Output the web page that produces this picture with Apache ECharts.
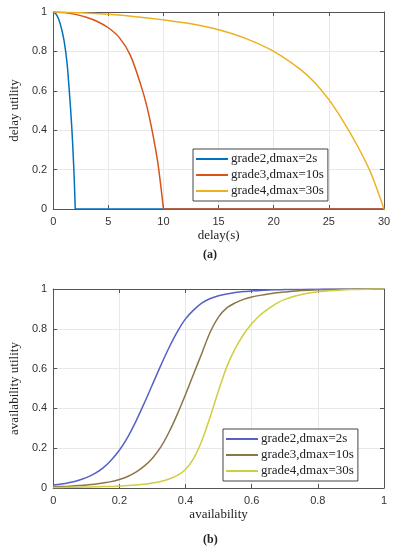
<!DOCTYPE html>
<html>
<head>
<meta charset="utf-8">
<script src="https://cdn.jsdelivr.net/npm/echarts@6/dist/echarts.min.js"></script>
<style>
html,body{margin:0;padding:0;background:#fff;}
#c{width:394px;height:550px;}
</style>
</head>
<body>
<div id="c"></div>
<script>
// ---- Data (a) ----
var legendNames = ['grade2,dmax=2s', 'grade3,dmax=10s', 'grade4,dmax=30s'];
var delayTicks = [0, 5, 10, 15, 20, 25, 30];
var utilTicks = [0, 0.2, 0.4, 0.6, 0.8, 1];
var delayMax = 30;

var g2DelayX = [0, 0.25, 0.5, 0.75, 1.0, 1.25, 1.5, 1.6, 1.7, 1.8, 1.9, 2.0];
var g2DelayY = [1, 0.99, 0.963, 0.916, 0.85, 0.745, 0.57, 0.49, 0.4, 0.29, 0.165, 0];

var g3DelayX = [0, 1, 2, 3, 4, 5, 6, 7, 8, 8.5, 9, 9.5, 10];
var g3DelayY = [1, 0.997, 0.988, 0.973, 0.952, 0.92, 0.87, 0.78, 0.62, 0.52, 0.39, 0.23, 0];

var g4DelayX = [0, 2.5, 5, 7.5, 10, 12.5, 15, 17.5, 20, 22.5, 23.75, 25, 26.25, 27.5, 28.75, 30];
var g4DelayY = [1, 0.996, 0.988, 0.976, 0.96, 0.94, 0.91, 0.865, 0.8, 0.705, 0.64, 0.555, 0.45, 0.33, 0.19, 0];

// ---- Data (b) ----
var availTicks = [0, 0.2, 0.4, 0.6, 0.8, 1];
var availX = [0, 0.025, 0.05, 0.075, 0.1, 0.125, 0.15, 0.175, 0.2, 0.225, 0.25, 0.275, 0.3, 0.325, 0.35, 0.375, 0.4, 0.425, 0.45, 0.475, 0.5, 0.525, 0.55, 0.575, 0.6, 0.625, 0.65, 0.675, 0.7, 0.75, 0.8, 0.85, 0.9, 0.95, 1];
var g2Avail = [0.015, 0.02, 0.028, 0.038, 0.052, 0.072, 0.1, 0.14, 0.19, 0.255, 0.335, 0.425, 0.52, 0.615, 0.705, 0.785, 0.85, 0.895, 0.93, 0.952, 0.966, 0.975, 0.982, 0.987, 0.99, 0.993, 0.995, 0.996, 0.997, 0.998, 0.999, 1, 1, 1, 1];
var g3Avail = [0.006, 0.007, 0.009, 0.012, 0.015, 0.019, 0.025, 0.032, 0.043, 0.058, 0.08, 0.11, 0.15, 0.205, 0.28, 0.37, 0.47, 0.575, 0.68, 0.785, 0.86, 0.905, 0.93, 0.948, 0.96, 0.968, 0.975, 0.981, 0.985, 0.992, 0.996, 0.998, 0.999, 1, 1];
var g4Avail = [0.003, 0.003, 0.004, 0.004, 0.005, 0.006, 0.007, 0.008, 0.01, 0.012, 0.015, 0.019, 0.025, 0.033, 0.045, 0.063, 0.093, 0.15, 0.24, 0.36, 0.49, 0.61, 0.7, 0.77, 0.825, 0.868, 0.9, 0.928, 0.948, 0.972, 0.986, 0.993, 0.997, 0.999, 1];

function pairs(xs, ys) { return xs.map(function (x, i) { return [x, ys[i]]; }); }
// curve followed by a separate (unsmoothed) flat zero tail up to delayMax
function withTail(xs, ys) {
  var d = pairs(xs, ys);
  var last = xs[xs.length - 1];
  if (last < delayMax) { d.push('-'); d.push([last, 0]); d.push([delayMax, 0]); }
  return d;
}

var topColors = ['#0072BD', '#D95319', '#EDB120'];
var botColors = ['#5561c6', '#8c7548', '#d0cd42'];

var axisCol = '#555';
var gridCol = '#e8e8e8';
var sans = 'Liberation Sans';
var serif = 'Liberation Serif';

function xAx(gi, min, max, interval, name, show) {
  return {
    type: 'value', gridIndex: gi, min: min, max: max, interval: interval,
    position: show ? 'bottom' : 'top',
    name: show ? name : '', nameLocation: 'middle', nameGap: 20,
    nameTextStyle: { fontFamily: serif, fontSize: 13, color: '#222' },
    axisLine: { show: true, onZero: false, lineStyle: { color: axisCol, width: 1 } },
    axisTick: { show: true, inside: true, length: 4, lineStyle: { color: axisCol } },
    axisLabel: { show: show, margin: 7, fontFamily: sans, fontSize: 11, color: '#333' },
    splitLine: { show: show, lineStyle: { color: gridCol, width: 1 } }
  };
}
function yAx(gi, name, show) {
  return {
    type: 'value', gridIndex: gi, min: 0, max: 1, interval: 0.2,
    position: show ? 'left' : 'right',
    name: show ? name : '', nameLocation: 'middle', nameGap: 22,
    nameTextStyle: { fontFamily: serif, fontSize: 13, color: '#222' },
    axisLine: { show: true, onZero: false, lineStyle: { color: axisCol, width: 1 } },
    axisTick: { show: true, inside: true, length: 4, lineStyle: { color: axisCol } },
    axisLabel: { show: show, margin: 6, fontFamily: sans, fontSize: 11, color: '#333' },
    splitLine: { show: show, lineStyle: { color: gridCol, width: 1 } }
  };
}
function ser(name, data, color, xi, yi) {
  return {
    name: name, type: 'line', data: data, xAxisIndex: xi, yAxisIndex: yi,
    showSymbol: false, symbol: 'none', smooth: 0.3, connectNulls: false, animation: false,
    lineStyle: { color: color, width: 1.5 }, itemStyle: { color: color }
  };
}
function legend(left, top, names) {
  return {
    data: names.map(function (n) { return { name: n }; }),
    orient: 'vertical', left: left, top: top,
    icon: 'rect', itemWidth: 32, itemHeight: 2, itemGap: 2,
    padding: [3, 4, 3, 3],
    backgroundColor: '#fff', borderColor: '#444', borderWidth: 1,
    textStyle: { fontFamily: serif, fontSize: 13, color: '#222', lineHeight: 14, padding: [0, 0, 0, -2] },
    formatter: function (n) { return n.replace(/ $/, ''); },
    selectedMode: false
  };
}

var botNames = legendNames.map(function (n) { return n + ' '; });

var chart = echarts.init(document.getElementById('c'), null, { renderer: 'canvas' });
chart.setOption({
  animation: false,
  backgroundColor: '#fff',
  grid: [
    { left: 42, top: 12, width: 342, height: 197 },
    { left: 42, top: 289, width: 342, height: 199 }
  ],
  xAxis: [
    xAx(0, 0, 30, 5, 'delay(s)', true),
    xAx(0, 0, 30, 5, '', false),
    xAx(1, 0, 1, 0.2, 'availability', true),
    xAx(1, 0, 1, 0.2, '', false)
  ],
  yAxis: [
    yAx(0, 'delay utility', true),
    yAx(0, '', false),
    yAx(1, 'availability utility', true),
    yAx(1, '', false)
  ],
  legend: [legend(193, 149, legendNames), legend(223, 429, botNames)],
  series: [
    ser(legendNames[0], withTail(g2DelayX, g2DelayY), topColors[0], 0, 0),
    ser(legendNames[1], withTail(g3DelayX, g3DelayY), topColors[1], 0, 0),
    ser(legendNames[2], withTail(g4DelayX, g4DelayY), topColors[2], 0, 0),
    ser(botNames[0], pairs(availX, g2Avail), botColors[0], 2, 2),
    ser(botNames[1], pairs(availX, g3Avail), botColors[1], 2, 2),
    ser(botNames[2], pairs(availX, g4Avail), botColors[2], 2, 2)
  ],
  graphic: [
    { type: 'text', left: 203, top: 249, style: { text: '(a)', font: 'bold 12px "Liberation Serif"', fill: '#222' } },
    { type: 'text', left: 203, top: 534, style: { text: '(b)', font: 'bold 12px "Liberation Serif"', fill: '#222' } }
  ]
});
</script>
</body>
</html>
